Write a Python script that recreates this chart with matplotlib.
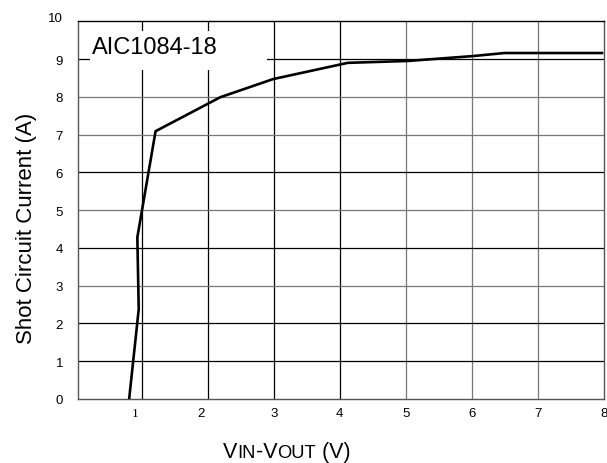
import numpy as np
import matplotlib
matplotlib.use('Agg')
import matplotlib.pyplot as plt
from matplotlib.patches import Rectangle
from matplotlib.transforms import ScaledTranslation

plt.rcParams['font.family'] = ['Liberation Sans', 'DejaVu Sans']

# curve
v_diff = [0.81, 0.955, 0.934, 1.21, 2.19, 2.99, 4.12, 5.03, 6.02, 6.49, 7.97]
i_short = [0.0, 2.38, 4.28, 7.09, 7.99, 8.47, 8.90, 8.95, 9.08, 9.16, 9.16]

x_ticks = [1, 2, 3, 4, 5, 6, 7, 8]
y_ticks = [0, 1, 2, 3, 4, 5, 6, 7, 8, 9, 10]
vgrid_colors = ['black', 'black', 'black', 'black', '#777777', '#777777', '#777777']
hgrid_colors = ['black', 'black', '#777777', 'black', '#777777', 'black', '#777777', '#777777', 'black']

W, H = 607, 464
fig = plt.figure(figsize=(W / 100, H / 100), dpi=100)
ax = fig.add_axes([78.3/W, (H-400)/H, (604-78.3)/W, (400-22.3)/H])

ax.set_xlim(0.04, 8)
ax.set_ylim(0, 10)

# grid lines, drawn by hand so each can have its own shade
for xv, c in zip(x_ticks[:-1], vgrid_colors):
    ax.axvline(xv, color=c, lw=0.9, zorder=1)
for yv, c in zip(y_ticks[1:-1], hgrid_colors):
    ax.axhline(yv, color=c, lw=0.9, zorder=1)

ax.plot(v_diff, i_short, color='black', lw=1.9, zorder=3)

# white label area that breaks the grid
ax.add_patch(Rectangle((0.22, 8.71), 2.68, 1.03, facecolor='white', edgecolor='none', zorder=2))
ax.text(0.25, 9.32, 'AIC1084-18', fontsize=17, va='center', ha='left', zorder=4)

ax.set_xticks(x_ticks)
ax.set_xticklabels([str(t) for t in x_ticks], fontsize=9.5)
ax.set_yticks(y_ticks)
ax.set_yticklabels([str(t) for t in y_ticks], fontsize=9.5)
ax.tick_params(axis='both', length=0)
ax.tick_params(axis='x', pad=6)
ax.tick_params(axis='y', pad=11)

xl = ax.get_xticklabels()
xl[0].set_fontfamily('Liberation Serif')
for lbl in xl[:2]:
    lbl.set_transform(lbl.get_transform() + ScaledTranslation(-0.07, 0, fig.dpi_scale_trans))
yl = ax.get_yticklabels()
yl[-1].set_transform(yl[-1].get_transform() + ScaledTranslation(0, 0.05, fig.dpi_scale_trans))

for s in ['left', 'bottom', 'right']:
    ax.spines[s].set_color('#555555')
ax.spines['top'].set_color('black')
for s in ax.spines.values():
    s.set_linewidth(1.0)

ax.set_ylabel('Shot Circuit Current (A)', fontsize=16)
ax.yaxis.set_label_coords(-0.078, 0.455)

# x label with small capital subscripts on the baseline
parts = [('V', 15.5), ('IN', 13.2), ('-V', 15.5), ('OUT', 13.2), (' (V)', 15.5)]
fig.canvas.draw()
renderer = fig.canvas.get_renderer()
x_px = 223
for txt, fs in parts:
    t = fig.text(x_px / W, 6 / H, txt, fontsize=fs, ha='left', va='baseline')
    x_px = t.get_window_extent(renderer).x1

fig.savefig('out.png', dpi=100)
